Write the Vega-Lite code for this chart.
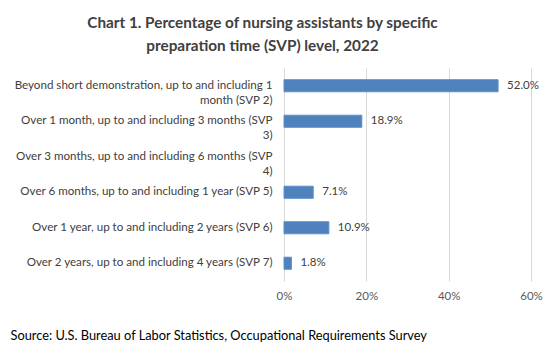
{
  "$schema": "https://vega.github.io/schema/vega-lite/v6.json",
  "width": 247,
  "height": 213,
  "autosize": {"type": "none"},
  "padding": {"left": 284, "top": 68, "right": 20, "bottom": 70},
  "background": "white",
  "config": {
    "font": "Lato",
    "view": {"stroke": null}
  },
  "title": {
    "text": ["Chart 1. Percentage of nursing assistants by specific", "preparation time (SVP) level, 2022"],
    "anchor": "middle",
    "dx": -145,
    "offset": 14,
    "fontSize": 15.3,
    "fontWeight": "bold",
    "lineHeight": 23,
    "color": "#404040",
    "font": "Lato"
  },
  "data": {
    "values": [
      {"label": "Beyond short demonstration, up to and including 1|month (SVP 2)", "value": 52.0},
      {"label": "Over 1 month, up to and including 3 months (SVP|3)", "value": 18.9},
      {"label": "Over 3 months, up to and including 6 months (SVP|4)", "value": null},
      {"label": "Over 6 months, up to and including 1 year (SVP 5)", "value": 7.1},
      {"label": "Over 1 year, up to and including 2 years (SVP 6)", "value": 10.9},
      {"label": "Over 2 years, up to and including 4 years (SVP 7)", "value": 1.8}
    ]
  },
  "encoding": {
    "y": {
      "field": "label",
      "type": "nominal",
      "sort": null,
      "scale": {
        "domain": [
          "Beyond short demonstration, up to and including 1|month (SVP 2)",
          "Over 1 month, up to and including 3 months (SVP|3)",
          "Over 3 months, up to and including 6 months (SVP|4)",
          "Over 6 months, up to and including 1 year (SVP 5)",
          "Over 1 year, up to and including 2 years (SVP 6)",
          "Over 2 years, up to and including 4 years (SVP 7)"
        ],
        "paddingInner": 0.66,
        "paddingOuter": 0.33
      },
      "axis": {
        "title": null,
        "labelExpr": "split(datum.label, '|')",
        "labelFontSize": 11.6,
        "labelLineHeight": 15,
        "labelColor": "#404040",
        "labelPadding": 12,
        "labelLimit": 300,
        "ticks": false,
        "domain": false,
        "grid": false
      }
    },
    "x": {
      "field": "value",
      "type": "quantitative",
      "scale": {"domain": [0, 60]},
      "axis": {
        "values": [0, 20, 40, 60],
        "labelExpr": "datum.value + '%'",
        "labelFontSize": 11.5,
        "labelColor": "#595959",
        "labelPadding": 9,
        "labelFlush": false,
        "ticks": false,
        "domain": false,
        "grid": true,
        "gridColor": "#d9d9d9",
        "gridWidth": 1,
        "title": "Source: U.S. Bureau of Labor Statistics, Occupational Requirements Survey",
        "titleAnchor": "start",
        "titleAlign": "left",
        "titleX": -274,
        "titleY": 58,
        "titleBaseline": "alphabetic",
        "titleFontSize": 12.8,
        "titleFontWeight": "normal",
        "titleColor": "#000000"
      }
    }
  },
  "layer": [
    {
      "mark": {"type": "bar", "color": "#4f81bd", "stroke": "#5b8fd0", "strokeWidth": 1}
    },
    {
      "transform": [
        {"filter": "datum.value != null"},
        {"calculate": "format(datum.value, '.1f') + '%'", "as": "valueLabel"}
      ],
      "mark": {"type": "text", "align": "left", "baseline": "middle", "dx": 9, "fontSize": 11.5, "color": "#404040"},
      "encoding": {
        "text": {"field": "valueLabel", "type": "nominal"}
      }
    }
  ]
}
